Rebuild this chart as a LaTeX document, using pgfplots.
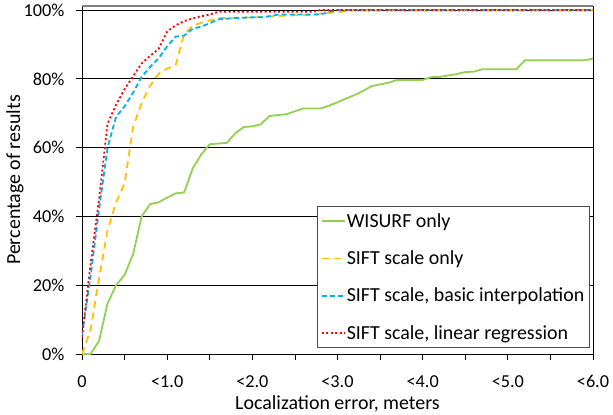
\documentclass[border=0pt]{standalone}
\usepackage{pgfplots}
\pgfplotsset{compat=1.18}
\usepackage{fontspec}
\setmainfont{Carlito}
\definecolor{cgreen}{RGB}{146,208,80}
\definecolor{cyellow}{RGB}{255,192,0}
\definecolor{cblue}{RGB}{0,176,240}
\definecolor{cred}{RGB}{255,0,0}
\begin{document}
\begin{tikzpicture}
\begin{axis}[
  scale only axis, width=511bp, height=348bp,
  xmin=0, xmax=6, ymin=0, ymax=101.2,
  xtick={0,1,2,3,4,5,6},
  xticklabels={0,{<1.0},{<2.0},{<3.0},{<4.0},{<5.0},{<6.0}},
  minor xtick={0.5,1.5,2.5,3.5,4.5,5.5},
  ytick={0,20,40,60,80,100},
  yticklabels={0\%,20\%,40\%,60\%,80\%,100\%},
  ymajorgrids, major grid style={black, line width=0.8bp},
  tick align=outside, xtick pos=left, ytick pos=left,
  tick style={black, line width=0.8bp},
  major tick length=6bp, minor tick length=6bp,
  axis line style={black, line width=0.8bp},
  tick label style={font=\fontsize{18.3}{22}\selectfont},
  /pgf/number format/assume math mode=true,
  xticklabel style={anchor=base, yshift=-27bp},
  yticklabel style={anchor=east, xshift=-8bp},
  xlabel={Localization error, meters},
  ylabel={Percentage of results},
  every axis x label/.style={at={(rel axis cs:0.5,-0.1609)}, anchor=base, font=\fontsize{20}{24}\selectfont},
  every axis y label/.style={at={(rel axis cs:-0.1311,0.5)}, rotate=90, anchor=center, font=\fontsize{20}{24}\selectfont},
  legend cell align=left,
  legend style={at={(rel axis cs:0.994,0.017)}, anchor=south east, draw=black!70, line width=0.8bp,
    row sep=18bp, inner xsep=4bp, inner ysep=5bp, font=\fontsize{20}{24}\selectfont,
    nodes={inner xsep=1.2bp},
    column 2/.style={text width=244bp}},
  legend image code/.code={\draw[#1, line width=1.6bp] (0bp,0bp) -- (23bp,0bp);},
]
\addplot[cgreen, line width=1.8bp] coordinates {
(0,0) (0.1,0) (0.2,3.8) (0.3,14.7) (0.4,20) (0.5,23) (0.6,29) (0.7,40) (0.8,43.6) (0.9,44.1)
(1.0,45.5) (1.1,46.7) (1.2,47) (1.3,54) (1.4,58) (1.5,61) (1.6,61.2) (1.7,61.4) (1.8,64.2) (1.9,66)
(2.0,66.2) (2.1,66.8) (2.2,69.2) (2.3,69.5) (2.4,69.7) (2.5,70.6) (2.6,71.4) (2.7,71.4) (2.8,71.4) (2.9,72.2)
(3.0,73.2) (3.1,74.3) (3.2,75.3) (3.3,76.5) (3.4,77.9) (3.5,78.4) (3.6,78.9) (3.7,79.7) (3.8,79.7) (3.9,79.7)
(4.0,79.7) (4.1,80.5) (4.2,80.6) (4.3,81) (4.4,81.4) (4.5,82) (4.6,82.1) (4.7,82.8) (4.8,82.8) (4.9,82.8)
(5.0,82.8) (5.1,82.8) (5.2,85.4) (5.3,85.4) (5.4,85.4) (5.5,85.4) (5.6,85.4) (5.7,85.4) (5.8,85.4) (5.9,85.4) (6.0,85.9)
};
\addlegendentry{WISURF only}
\addplot[cyellow, line width=1.8bp, dash pattern=on 7bp off 5bp] coordinates {
(0,0) (0.1,7) (0.2,22) (0.3,36) (0.4,44) (0.5,49.6) (0.6,66) (0.7,73) (0.8,78) (0.9,81.5)
(1.0,83) (1.1,84) (1.2,93) (1.3,95.5) (1.4,96.3) (1.5,97) (1.6,97.7) (1.7,97.7) (1.8,97.8) (1.9,97.8)
(2.0,97.9) (2.1,98) (2.2,98.2) (2.3,98.3) (2.4,98.4) (2.5,98.5) (2.6,98.5) (2.7,98.6) (2.8,99) (2.9,99.2)
(3.0,99.4) (3.1,99.7) (3.2,100) (3.3,100) (3.4,100) (3.5,100) (4.0,100) (4.5,100) (5.0,100) (5.5,100) (6.0,100)
};
\addlegendentry{SIFT scale only}
\addplot[cblue, line width=1.8bp, dash pattern=on 5bp off 3bp] coordinates {
(0,5.5) (0.1,22.5) (0.2,42) (0.3,60) (0.4,69) (0.5,72) (0.6,76) (0.7,80.6) (0.8,83.5) (0.9,86)
(1.0,89.5) (1.1,92.3) (1.2,92.6) (1.3,94.6) (1.4,95.2) (1.5,96.2) (1.6,97.3) (1.7,97.5) (1.8,97.7) (1.9,97.8)
(2.0,97.9) (2.1,97.9) (2.2,98.2) (2.3,98.7) (2.4,98.7) (2.5,98.7) (2.6,98.7) (2.7,98.7) (2.8,98.7) (2.9,99.5)
(3.0,100) (3.5,100) (4.0,100) (4.5,100) (5.0,100) (5.5,100) (6.0,100)
};
\addlegendentry{SIFT scale, basic interpolation}
\addplot[cred, line width=1.8bp, dash pattern=on 2bp off 2.5bp] coordinates {
(0,5) (0.1,26) (0.2,45) (0.3,67) (0.4,72.5) (0.5,77) (0.6,80.8) (0.7,84.5) (0.8,86.7) (0.9,88.7)
(1.0,93.8) (1.1,95.6) (1.2,96.8) (1.3,97.6) (1.4,98.2) (1.5,98.7) (1.6,99.5) (1.7,99.5) (1.8,99.5) (1.9,99.5)
(2.0,99.5) (2.2,99.5) (2.4,99.5) (2.6,99.5) (2.7,99.5) (2.8,100) (3.0,100) (3.5,100) (4.0,100) (4.5,100) (5.0,100) (5.5,100) (6.0,100)
};
\addlegendentry{SIFT scale, linear regression}
\draw[black!50, line width=2bp] (rel axis cs:0,1) -- (rel axis cs:1,1);
\coordinate (bl) at (rel axis cs:0,0);
\coordinate (tr) at (rel axis cs:1,1);
\end{axis}
\pgfresetboundingbox
\path ([xshift=-82bp,yshift=-61bp]bl) rectangle ([xshift=20bp,yshift=6bp]tr);
\end{tikzpicture}
\end{document}
